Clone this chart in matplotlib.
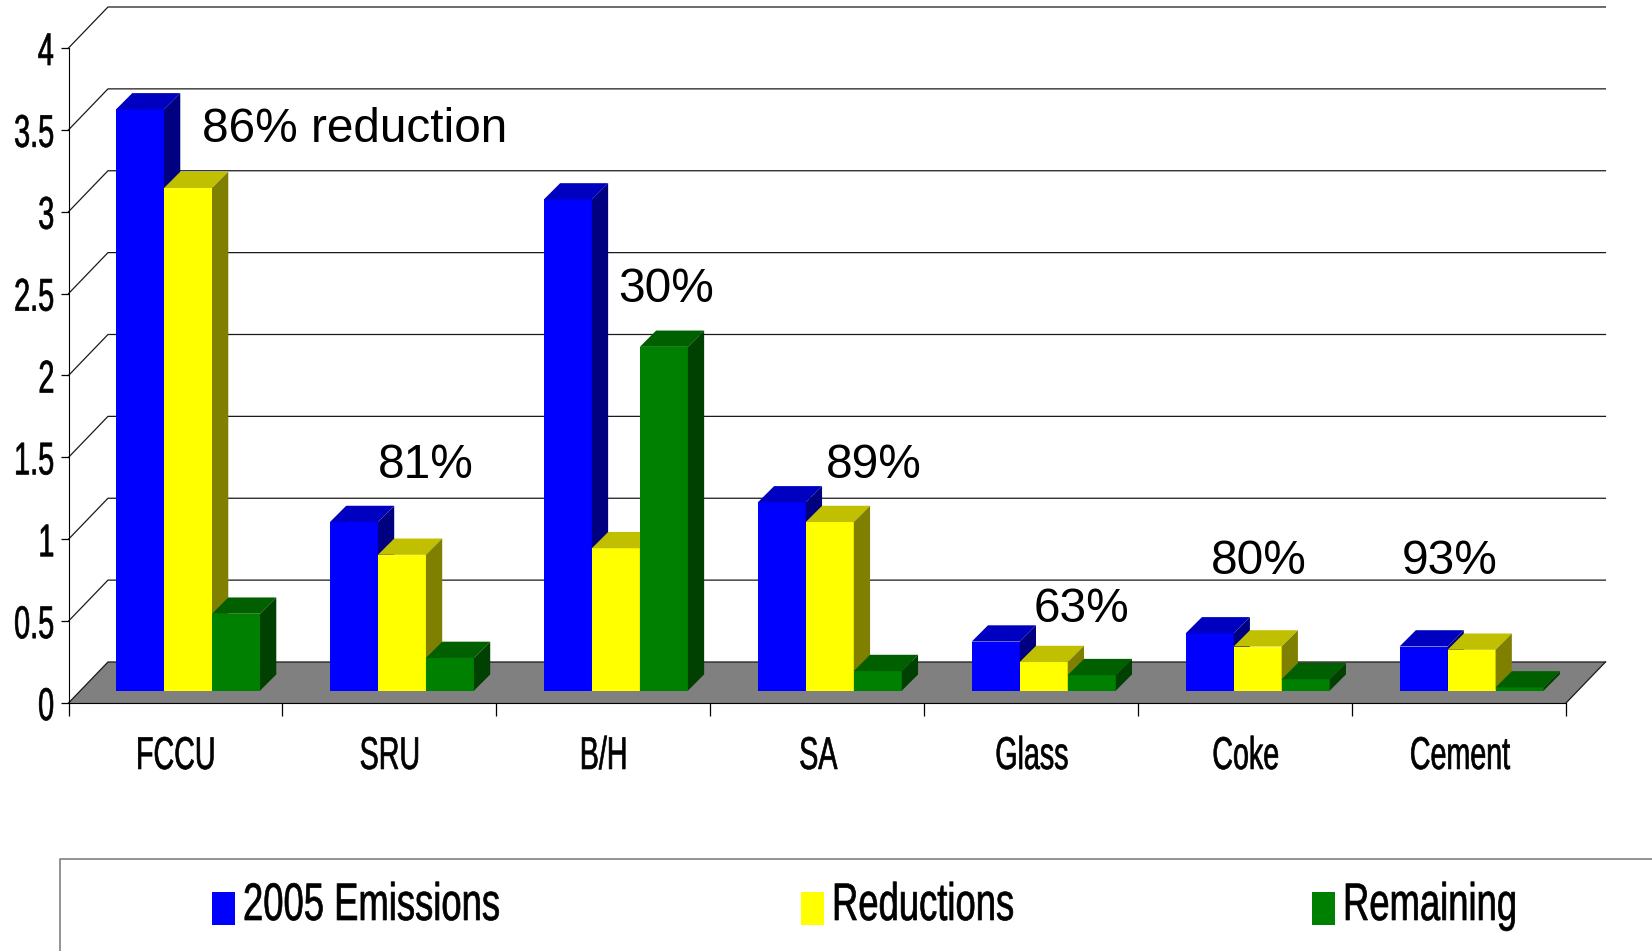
import matplotlib
matplotlib.use('Agg')
import matplotlib.pyplot as plt
from matplotlib.lines import Line2D
from matplotlib.patches import Polygon, Rectangle
from matplotlib.patheffects import AbstractPathEffect
from matplotlib.transforms import Affine2D

plt.rcParams['font.family'] = ['Liberation Sans', 'DejaVu Sans']

W, H = 1652, 951

categories = ['FCCU', 'SRU', 'B/H', 'SA', 'Glass', 'Coke', 'Cement']
emissions = [3.55, 1.03, 3.00, 1.15, 0.30, 0.35, 0.27]
reductions = [3.07, 0.83, 0.87, 1.03, 0.175, 0.27, 0.25]
remaining = [0.47, 0.20, 2.10, 0.12, 0.095, 0.07, 0.02]
series_names = ['2005 Emissions', 'Reductions', 'Remaining']
y_ticks = [0, 0.5, 1, 1.5, 2, 2.5, 3, 3.5, 4]
y_tick_labels = ['0', '0.5', '1', '1.5', '2', '2.5', '3', '3.5', '4']

# front, top, side shades of each series
shades = [('#0000ff', '#0000c0', '#000080'),
          ('#ffff00', '#c0c000', '#808000'),
          ('#008000', '#006000', '#004000')]

# sizes of the fake 3D box, in data units
wall_dx, wall_dy = 0.1845, 0.2504
bar_dx, bar_dy = 0.0761, 0.0995
bar_w = 0.2244
bar_start = 0.222
bar_base = 0.075


class Squeeze(AbstractPathEffect):
    # narrows text horizontally around its left, centre or right end,
    # or puts its squeezed right end at a given pixel column
    def __init__(self, sx, pivot=0.0, right_px=None):
        self.sx = sx
        self.pivot = pivot
        self.right_px = right_px

    def draw_path(self, renderer, gc, tpath, affine, rgbFace=None):
        x1 = tpath.get_extents().x1
        p = x1 * self.pivot
        t = Affine2D().translate(-p, 0).scale(self.sx, 1).translate(p, 0) + affine
        if self.right_px is not None:
            now = t.transform((x1, 0))[0]
            t = t + Affine2D().translate(self.right_px - now, 0)
        gc.set_linewidth(0.5)
        renderer.draw_path(gc, tpath, t, rgbFace)


def fx(px):
    return px / W


def fy(py):
    return 1 - py / H


def draw_walls(ax):
    floor = [(0, 0), (7, 0), (7 + wall_dx, wall_dy), (wall_dx, wall_dy)]
    ax.add_patch(Polygon(floor, closed=True, facecolor='#808080', edgecolor='none', clip_on=False, zorder=1))
    for v in y_ticks:
        ax.plot([0, wall_dx, 7 + wall_dx], [v, v + wall_dy, v + wall_dy],
                color='#1a1a1a', lw=0.9, clip_on=False, zorder=1.5)
    ax.plot([7, 7 + wall_dx], [0, wall_dy], color='#1a1a1a', lw=0.9, clip_on=False, zorder=1.5)


def draw_bars(ax, values, offset, colors):
    front, top, side = colors
    lefts = [i + bar_start + offset * bar_w for i in range(len(values))]
    ax.bar(lefts, values, width=bar_w, bottom=bar_base, align='edge', color=front, zorder=3 + offset)
    for x, v in zip(lefts, values):
        y = bar_base + v
        ax.add_patch(Polygon([(x, y), (x + bar_w, y), (x + bar_w + bar_dx, y + bar_dy), (x + bar_dx, y + bar_dy)],
                             closed=True, facecolor=top, edgecolor='none', zorder=3 + offset))
        ax.add_patch(Polygon([(x + bar_w, bar_base), (x + bar_w + bar_dx, bar_base + bar_dy),
                              (x + bar_w + bar_dx, y + bar_dy), (x + bar_w, y)],
                             closed=True, facecolor=side, edgecolor='none', zorder=3 + offset))


def main():
    fig = plt.figure(figsize=(W / 100, H / 100), dpi=100)
    ax = fig.add_axes([fx(68.5), fy(703), (1566 - 68.5) / W, (703 - 48) / H])
    ax.set_xlim(0, 7)
    ax.set_ylim(0, 4)
    ax.patch.set_visible(False)

    draw_walls(ax)
    for i, values in enumerate([emissions, reductions, remaining]):
        draw_bars(ax, values, i, shades[i])

    ax.spines['top'].set_visible(False)
    ax.spines['right'].set_visible(False)
    ax.spines['left'].set_zorder(6)
    ax.spines['bottom'].set_zorder(6)

    ax.set_yticks(y_ticks)
    ax.set_yticklabels(y_tick_labels, fontsize=33)
    ax.tick_params(axis='y', length=5.8, width=0.9, pad=37)
    for label in ax.get_yticklabels():
        label.set_horizontalalignment('left')
        label.set_path_effects([Squeeze(0.63, right_px=53)])

    ax.set_xticks(range(8))
    ax.set_xticklabels([])
    ax.set_xticks([i + 0.505 for i in range(7)], minor=True)
    ax.set_xticklabels(categories, minor=True, fontsize=33)
    ax.tick_params(axis='x', which='major', length=9, width=0.9)
    ax.tick_params(axis='x', which='minor', length=0, pad=23)
    for label in ax.get_xticklabels(minor=True):
        label.set_path_effects([Squeeze(0.625, 0.5)])

    # percentage notes above the groups
    notes = [('86% reduction', 202, 129), ('81%', 378, 465.5), ('30%', 618.5, 289.5), ('89%', 826, 465.5),
             ('63%', 1033.6, 610), ('80%', 1210.6, 561), ('93%', 1402, 561)]
    for text, x, y in notes:
        fig.text(fx(x), fy(y), text, fontsize=34.4, color='black', ha='left', va='center')

    # legend box runs off the right and bottom edges
    fig.add_artist(Line2D([fx(60), fx(60), 1], [0, fy(859), fy(859)], color='#808080', lw=1.2))
    swatch_x = [212, 801, 1312]
    text_x = [243, 832, 1343]
    for i, name in enumerate(series_names):
        fig.add_artist(Rectangle((fx(swatch_x[i]), fy(925)), 23 / W, 33 / H, facecolor=shades[i][0],
                                 edgecolor='none', transform=fig.transFigure))
        t = fig.text(fx(text_x[i]), fy(920), name, fontsize=38, color='black', ha='left', va='baseline')
        t.set_path_effects([Squeeze(0.69, 0.0)])

    fig.savefig('out.png', dpi=100)


if __name__ == '__main__':
    main()
